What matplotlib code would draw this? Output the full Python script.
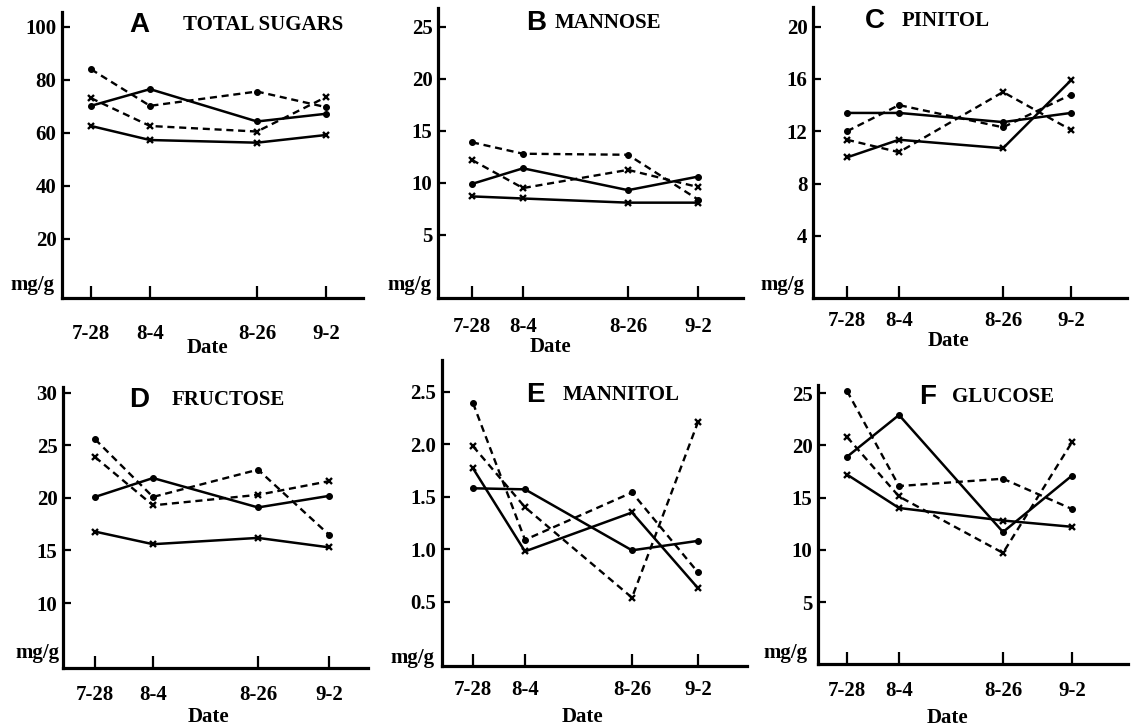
import matplotlib
matplotlib.use("Agg")
import matplotlib.pyplot as plt

# ---------------- data ----------------
dates = ["7-28", "8-4", "8-26", "9-2"]
panel_letters = ["A", "B", "C", "D", "E", "F"]
panel_names = ["TOTAL SUGARS", "MANNOSE", "PINITOL", "FRUCTOSE", "MANNITOL", "GLUCOSE"]

# series: solid-dot, solid-x, dashed-dot, dashed-x
total_solid_dot = [70.1, 76.4, 64.2, 67.1]
total_solid_x = [62.5, 57.2, 56.2, 59.1]
total_dash_dot = [83.9, 70.1, 75.5, 69.6]
total_dash_x = [73.0, 62.5, 60.4, 73.4]

mannose_solid_dot = [9.9, 11.4, 9.3, 10.6]
mannose_solid_x = [8.7, 8.5, 8.1, 8.1]
mannose_dash_dot = [13.9, 12.8, 12.7, 8.4]
mannose_dash_x = [12.2, 9.5, 11.25, 9.6]

pinitol_solid_dot = [13.4, 13.4, 12.7, 13.4]
pinitol_solid_x = [10.0, 11.35, 10.7, 15.9]
pinitol_dash_dot = [12.0, 14.0, 12.3, 14.8]
pinitol_dash_x = [11.35, 10.4, 15.0, 12.1]

fructose_solid_dot = [20.1, 21.9, 19.1, 20.2]
fructose_solid_x = [16.8, 15.6, 16.2, 15.3]
fructose_dash_dot = [25.6, 20.1, 22.7, 16.5]
fructose_dash_x = [23.9, 19.3, 20.3, 21.6]

mannitol_solid_dot = [1.58, 1.57, 0.99, 1.08]
mannitol_solid_x = [1.77, 0.98, 1.35, 0.63]
mannitol_dash_dot = [2.39, 1.09, 1.54, 0.78]
mannitol_dash_x = [1.98, 1.40, 0.54, 2.21]

glucose_solid_dot = [18.9, 22.9, 11.7, 17.1]
glucose_solid_x = [17.2, 14.0, 12.8, 12.2]
glucose_dash_dot = [25.2, 16.1, 16.8, 13.9]
glucose_dash_x = [20.8, 15.1, 9.7, 20.3]

yticks_A = [20, 40, 60, 80, 100]
yticks_B = [5, 10, 15, 20, 25]
yticks_C = [4, 8, 12, 16, 20]
yticks_D = [10, 15, 20, 25, 30]
yticks_E = [0.5, 1.0, 1.5, 2.0, 2.5]
yticks_F = [5, 10, 15, 20, 25]

panel_series = [
    [total_solid_dot, total_solid_x, total_dash_dot, total_dash_x],
    [mannose_solid_dot, mannose_solid_x, mannose_dash_dot, mannose_dash_x],
    [pinitol_solid_dot, pinitol_solid_x, pinitol_dash_dot, pinitol_dash_x],
    [fructose_solid_dot, fructose_solid_x, fructose_dash_dot, fructose_dash_x],
    [mannitol_solid_dot, mannitol_solid_x, mannitol_dash_dot, mannitol_dash_x],
    [glucose_solid_dot, glucose_solid_x, glucose_dash_dot, glucose_dash_x],
]
panel_yticks = [yticks_A, yticks_B, yticks_C, yticks_D, yticks_E, yticks_F]

# ---------------- layout (pixels) ----------------
W, H = 1133, 726
layout = [
    dict(box=(62, 12, 363, 298), xpos=(29, 88, 195, 264), ylim=(-2.4, 105.5),
         letter=(129, 25), name=(183, 25), date=(207, 348), mg=(55, 285), xpad=19, fmt="{:g}"),
    dict(box=(438, 8, 743, 298), xpos=(34, 85, 190, 260), ylim=(-1.06, 26.8),
         letter=(526, 23), name=(555, 23), date=(550, 347), mg=(432, 285), xpad=14, fmt="{:g}"),
    dict(box=(813, 7, 1127, 298), xpos=(34, 86, 190, 258), ylim=(-0.75, 21.5),
         letter=(865, 21), name=(902, 21), date=(948, 341), mg=(805, 285), xpad=9, fmt="{:g}"),
    dict(box=(63, 387, 368, 668), xpos=(32, 90, 195, 266), ylim=(3.81, 30.57),
         letter=(129, 400), name=(172, 400), date=(208, 717), mg=(60, 653), xpad=12, fmt="{:g}"),
    dict(box=(442, 360, 747, 666), xpos=(31, 83, 190, 256), ylim=(-0.11, 2.80),
         letter=(526, 395), name=(563, 395), date=(582, 717), mg=(435, 658), xpad=10, fmt="{:.1f}"),
    dict(box=(818, 385, 1128, 664), xpos=(29, 81, 185, 254), ylim=(-0.93, 25.77),
         letter=(919, 397), name=(952, 397), date=(947, 718), mg=(808, 653), xpad=12, fmt="{:g}"),
]

styles = [
    dict(linestyle="-", marker="o", lw=1.8, ms=4.2, mew=0.8),
    dict(linestyle="-", marker="x", lw=1.8, ms=5.0, mew=1.7),
    dict(linestyle=(0, (3.0, 2.0)), marker="o", lw=1.7, ms=4.2, mew=0.8),
    dict(linestyle=(0, (3.0, 2.0)), marker="x", lw=1.7, ms=5.0, mew=1.7),
]

SERIF = "Liberation Serif"
SANS = "Liberation Sans"

fig = plt.figure(figsize=(W / 100, H / 100), dpi=100)
fig.patch.set_facecolor("white")

for i, lay in enumerate(layout):
    x0, y0, x1, y1 = lay["box"]
    ax = fig.add_axes([x0 / W, 1 - y1 / H, (x1 - x0) / W, (y1 - y0) / H])
    ax.set_xlim(0, x1 - x0)
    ax.set_ylim(*lay["ylim"])
    for vals, st in zip(panel_series[i], styles):
        ax.plot(lay["xpos"], vals, color="black", linestyle=st["linestyle"],
                linewidth=st["lw"], marker=st["marker"], markersize=st["ms"],
                markeredgewidth=st["mew"], markerfacecolor="black",
                markeredgecolor="black")
    for s in ("top", "right"):
        ax.spines[s].set_visible(False)
    for s in ("left", "bottom"):
        ax.spines[s].set_linewidth(2.3)
    ax.set_xticks(lay["xpos"])
    ax.set_xticklabels(dates, fontfamily=SERIF, fontweight="bold", fontsize=15)
    yt = panel_yticks[i]
    ax.set_yticks(yt)
    ax.set_yticklabels([lay["fmt"].format(v) for v in yt],
                       fontfamily=SERIF, fontweight="bold", fontsize=15)
    ax.tick_params(axis="x", direction="in", length=9, width=1.6, pad=lay["xpad"])
    ax.tick_params(axis="y", direction="in", length=6, width=1.6, pad=4)
    ax.set_facecolor("none")

    lx, ly = lay["letter"]
    fig.text(lx / W, 1 - ly / H, panel_letters[i], fontfamily=SANS,
             fontweight="bold", fontsize=20, ha="left", va="center")
    nx, ny = lay["name"]
    fig.text(nx / W, 1 - ny / H, panel_names[i], fontfamily=SERIF,
             fontweight="bold", fontsize=15, ha="left", va="center")
    dx, dy = lay["date"]
    fig.text(dx / W, 1 - dy / H, "Date", fontfamily=SERIF,
             fontweight="bold", fontsize=15, ha="center", va="center")
    mx, my = lay["mg"]
    fig.text(mx / W, 1 - my / H, "mg/g", fontfamily=SERIF,
             fontweight="bold", fontsize=15, ha="right", va="center")

fig.savefig("out.png", dpi=100, facecolor="white")
